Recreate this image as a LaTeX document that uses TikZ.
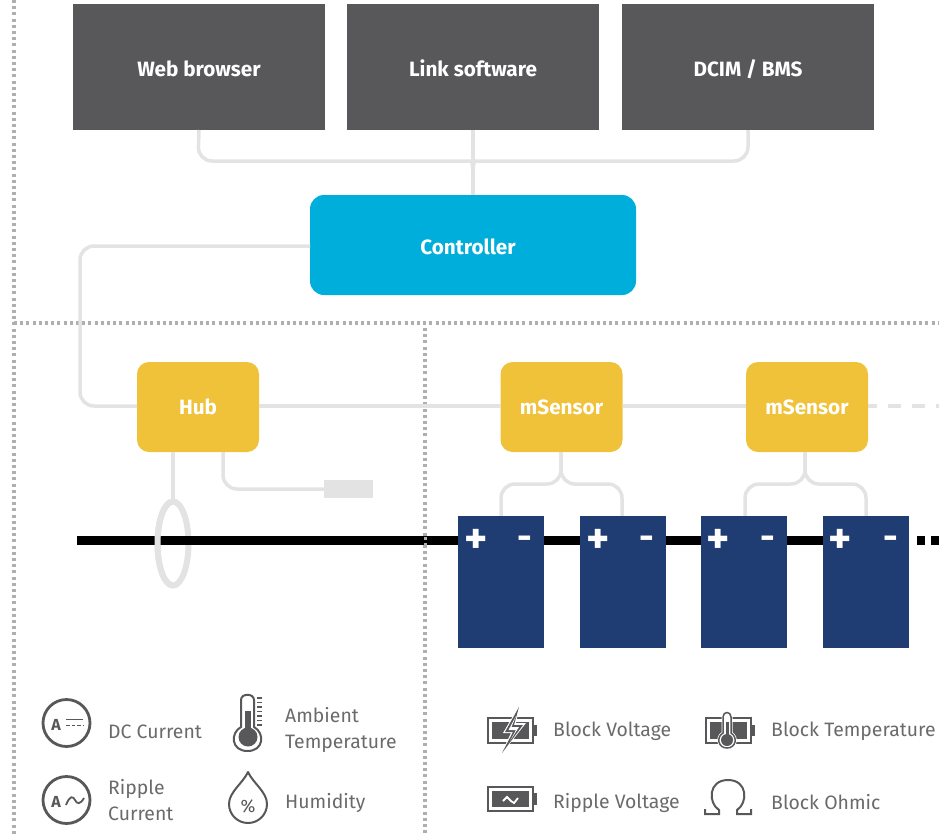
\documentclass[tikz,border=0pt]{standalone}
\usepackage{fontspec}
\setmainfont{Fira Sans}
\definecolor{boxgray}{HTML}{58585A}
\definecolor{wire}{HTML}{E3E3E3}
\definecolor{ctrl}{HTML}{00AEDB}
\definecolor{amber}{HTML}{F0C23A}
\definecolor{navy}{HTML}{1F3D73}
\definecolor{dots}{HTML}{AFAFAF}
\definecolor{icon}{HTML}{58585A}
\definecolor{lbl}{HTML}{6A6A6C}
\newcommand{\lowered}[1]{\raisebox{-9pt}[0pt][0pt]{#1}}
\tikzset{
  x=1pt,y=-1pt,
  box/.style={minimum width=#1,inner sep=0pt,outer sep=0pt,text=white,font=\fontsize{20.7}{24}\selectfont\bfseries},
  topbox/.style={box=252pt,fill=boxgray,minimum height=126pt},
  ctrlbox/.style={box=326pt,fill=ctrl,minimum height=100pt,rounded corners=14pt},
  sensbox/.style={box=122pt,fill=amber,minimum height=90pt,rounded corners=12pt},
  cell/.style={fill=navy,minimum width=86pt,minimum height=132pt,inner sep=0pt,outer sep=0pt},
  wirel/.style={draw=wire,line width=3.5pt,rounded corners=14pt},
  sep/.style={draw=dots,line width=3.4pt,dash pattern=on 3pt off 3.2pt},
  bus/.style={draw=black,line width=9pt},
  lab/.style={anchor=west,inner sep=0pt,text=lbl,font=\fontsize{19.4}{25.5}\selectfont,align=left},
  plussign/.style={inner sep=0pt,text=white,font=\fontsize{44}{44}\selectfont\bfseries},
  minussign/.style={inner sep=0pt,text=white,font=\fontsize{36}{36}\selectfont\bfseries},
  letter/.style={inner sep=0,text=icon,font=\fontsize{16}{16}\selectfont\bfseries},
  ico/.style={draw=icon,line width=2.8pt},
  icof/.style={fill=icon},
}
\begin{document}
\begin{tikzpicture}
\useasboundingbox (0,0) rectangle (939,836);
% separators
\draw[sep] (14,0) -- (14,836);
\draw[sep] (14,323) -- (939,323);
\draw[sep] (425,328) -- (425,836);
% nodes
\node[topbox] (web) at (199,67) {\lowered{Web browser}};
\node[topbox] (link) at (473,67) {\lowered{Link software}};
\node[topbox] (dcim) at (748,67) {\lowered{DCIM / BMS}};
\node[ctrlbox] (ctrl) at (473,245) {};
\node[box=0pt] (ctrltext) at (468,247) {Controller};
\node[sensbox] (hub) at (198,407) {Hub};
\node[sensbox] (ms1) at (561.5,407) {mSensor};
\node[sensbox] (ms2) at (807,407) {mSensor};
\node[cell] (b1) at (501,582) {};
\node[cell] (b2) at (623,582) {};
\node[cell] (b3) at (744,582) {};
\node[cell] (b4) at (866,582) {};
\node[fill=wire,minimum width=49pt,minimum height=18pt,inner sep=0pt,outer sep=0pt] (probe) at (348.5,489) {};
\coordinate (ringtop) at (173,499);
\coordinate (edge) at (939,407);
% wires
\draw[wirel] (web.south) -- (198,161) -- (473,161);
\draw[wirel] (dcim.south) -- (748,161) -- (473,161);
\draw[wire,line width=3.5pt] (link.south) -- (ctrl.north);
\fill[wire] (466,161) .. controls (471,161) and (471,165) .. (471,170) -- (475,170) .. controls (475,165) and (475,161) .. (480,161) -- cycle;
\draw[wirel] (ctrl.west |- 0,246) -- (80,246) -- (80,406) -- (hub.west |- 0,406);
\draw[wire,line width=3.5pt] (hub.east |- 0,406) -- (ms1.west |- 0,406);
\draw[wire,line width=3.5pt] (ms1.east |- 0,406) -- (ms2.west |- 0,406);
\draw[wire,line width=3.5pt,dash pattern=on 13pt off 11pt,dash phase=4pt] (ms2.east |- 0,406) -- (edge |- 0,406);
\draw[wire,line width=3.5pt] (173,452) -- (ringtop);
\draw[wirel] (223,452) -- (223,489) -- (probe.west);
\draw[wirel] (561,452) -- (561,484) -- (501,484) -- (501,516);
\draw[wirel] (561,452) -- (561,484) -- (622,484) -- (622,516);
\draw[wirel] (805,452) -- (805,484) -- (745,484) -- (745,516);
\draw[wirel] (805,452) -- (805,484) -- (866,484) -- (866,516);
% ring and bus
\draw[wire,line width=6pt] (173,543.5) ellipse [x radius=15.5pt,y radius=42pt];
\draw[bus] (77,540) -- (b1.west |- 0,540);
\draw[bus] (b1.east |- 0,540) -- (b2.west |- 0,540);
\draw[bus] (b2.east |- 0,540) -- (b3.west |- 0,540);
\draw[bus] (b3.east |- 0,540) -- (b4.east |- 0,540);
\draw[bus,dash pattern=on 8pt off 6pt] (917,540) -- (939,540);
\draw[wire,line width=6pt] (173,501.5) arc [start angle=270,end angle=90,x radius=15.5pt,y radius=-42pt];
\fill[dots] (423.5,537) rectangle (426.5,540);
\fill[dots] (423.5,543) rectangle (426.5,546);
% cells over bus
\foreach \n in {b1,b2,b3,b4} \fill[navy] (\n.north west) rectangle (\n.south east);
\foreach \n/\x in {p1/476,p2/598,p3/718,p4/840}
  \node[plussign] (\n) at (\x,541) {+};
\foreach \n/\x in {m1/525,m2/647,m3/768,m4/891}
  \node[minussign] (\n) at (\x,543) {-};
% DC current icon
\draw[ico] (66.5,723) circle (23.5);
\node[letter] (ia) at (56,724.5) {A};
\draw[icon,line width=1.6pt] (66,719.5) -- (83,719.5);
\draw[icon,line width=1.6pt,dash pattern=on 3.5pt off 2pt] (66,725.5) -- (83,725.5);
% ripple icon
\draw[ico] (66.5,800) circle (23.5);
\node[letter] (ib) at (56,801.5) {A};
\draw[icon,line width=1.8pt] (66,805) .. controls (70,795) and (73,796) .. (75,800) .. controls (77,804) and (80,805) .. (84,798);
% thermometer
\draw[ico,line width=2pt,fill=white] (241,727) -- (241,700) .. controls (241,693) and (254,693) .. (254,700) -- (254,727) .. controls (265,733) and (264,751) .. (247.5,751) .. controls (231,751) and (230,733) .. (241,727) -- cycle;
\fill[icof] (245,711) rectangle (251,732);
\fill[icof] (248,737) circle (9.5);
\foreach \y in {698,702.5,707,711.5,716,720.5,725}
  \draw[icon,line width=1.1pt] (257,\y) -- (262,\y);
% drop
\draw[ico,line width=2pt,line join=round] (248,772) .. controls (243,783) and (229,792) .. (229,804) .. controls (229,815) and (238,823) .. (248,823) .. controls (258,823) and (267,815) .. (267,804) .. controls (267,792) and (253,783) .. (248,772) -- cycle;
\node[inner sep=0,text=icon,font=\fontsize{18}{18}\selectfont] (pc) at (248,806) {\%};
% block voltage icon
\draw[ico,line width=2.2pt] (488,718) rectangle (533,743);
\fill[icof] (534,725) rectangle (537,736);
\fill[icof] (492,722) rectangle (529,739);
\fill[white] (520,704) -- (503,733) -- (511,733) -- (500,756) -- (526,723) -- (516,723) -- cycle;
\fill[icon] (519,707) -- (505,732) -- (513,732) -- (502,753) -- (523,725) -- (514,725) -- cycle;
\fill[white] (516,716) -- (508.5,730) -- (516,730) -- (510,741) -- (519,727) -- (511.5,727) -- cycle;
% block temperature icon
\draw[ico,line width=2.2pt] (706,718) rectangle (751,743);
\fill[icof] (752,725) rectangle (755,736);
\fill[icof] (710,722) rectangle (747,739);
\draw[white,line width=3pt] (723,733) -- (723,717) .. controls (723,711) and (731,711) .. (731,717) -- (731,733) .. controls (738,737) and (736,748) .. (727,748) .. controls (718,748) and (716,737) .. (723,733) -- cycle;
\draw[ico,line width=1.5pt,fill=white] (723,733) -- (723,717) .. controls (723,711) and (731,711) .. (731,717) -- (731,733) .. controls (738,737) and (736,748) .. (727,748) .. controls (718,748) and (716,737) .. (723,733) -- cycle;
\fill[icof] (725.5,722) rectangle (728.5,735);
\fill[icof] (727,740) circle (6);
% ripple voltage icon
\draw[ico,line width=2.2pt] (488,787) rectangle (533,811);
\fill[icof] (534,793) rectangle (537,805);
\fill[icof] (492,791) rectangle (529,807);
\draw[white,line width=1.8pt] (503,801) -- (507,797) -- (511,801) -- (514,803) -- (518,798);
% omega icon
\draw[ico,line width=2pt,line join=miter] (705,809) -- (705,814) -- (719,814) -- (719,810) .. controls (708,803) and (708,780) .. (728,780) .. controls (748,780) and (748,803) .. (737,810) -- (737,814) -- (751,814) -- (751,809);
% labels
\node[lab] (l1) at (108,731.5) {DC Current};
\node[lab] (l2) at (285,730) {Ambient\\Temperature};
\node[lab] (l3) at (108,800) {Ripple\\Current};
\node[lab] (l4) at (285,802.5) {Humidity};
\node[lab] (l5) at (553,731.5) {Block Voltage};
\node[lab] (l6) at (771,731.5) {Block Temperature};
\node[lab] (l7) at (553,802.5) {Ripple Voltage};
\node[lab] (l8) at (771,802.5) {Block Ohmic};
\end{tikzpicture}
\end{document}
